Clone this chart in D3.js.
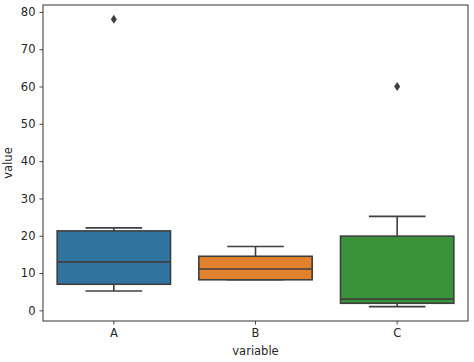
<!DOCTYPE html>
<html>
<head>
<meta charset="utf-8">
<script src="https://cdn.jsdelivr.net/npm/d3@7"></script>
<style>
  body { margin: 0; background: #fff; }
  text { font-family: "DejaVu Sans", sans-serif; }
</style>
</head>
<body>
<div id="chart"></div>
<script>
// Box stats
const categories = ["A", "B", "C"];
const q1 = [7, 8.2, 1.9];
const median = [13, 11.1, 3];
const q3 = [21.3, 14.5, 19.9];
const whiskerLow = [5.2, 8.2, 1];
const whiskerHigh = [22.1, 17.1, 25.2];
const outliers = [[78], [], [60]];
const colors = ["#3274a1", "#e1812c", "#3a923a"];
const yTicks = [0, 10, 20, 30, 40, 50, 60, 70, 80];

const width = 474, height = 362;
const margin = {top: 5, right: 6, bottom: 41, left: 43};
const lineColor = "#3f3f3f";

const svg = d3.select("#chart")
  .append("svg")
  .attr("width", width)
  .attr("height", height);

const x = d3.scaleBand()
  .domain(categories)
  .range([margin.left, width - margin.right])
  .paddingInner(0)
  .paddingOuter(0);

const y = d3.scaleLinear()
  .domain([-2.85, 81.85])
  .range([height - margin.bottom, margin.top]);

const boxW = x.bandwidth() * 0.8;
const capW = boxW / 2;

// Boxes
categories.forEach((c, i) => {
  let cx = x(c) + x.bandwidth() / 2;
  let g = svg.append("g");

  // whiskers
  g.append("line")
    .attr("x1", cx).attr("x2", cx)
    .attr("y1", y(q3[i])).attr("y2", y(whiskerHigh[i]))
    .attr("stroke", lineColor).attr("stroke-width", 1.6);
  g.append("line")
    .attr("x1", cx).attr("x2", cx)
    .attr("y1", y(q1[i])).attr("y2", y(whiskerLow[i]))
    .attr("stroke", lineColor).attr("stroke-width", 1.6);
  // caps
  [whiskerHigh[i], whiskerLow[i]].forEach(v => {
    g.append("line")
      .attr("x1", cx - capW / 2).attr("x2", cx + capW / 2)
      .attr("y1", y(v)).attr("y2", y(v))
      .attr("stroke", lineColor).attr("stroke-width", 1.6);
  });

  // box
  g.append("rect")
    .attr("x", cx - boxW / 2)
    .attr("y", y(q3[i]))
    .attr("width", boxW)
    .attr("height", y(q1[i]) - y(q3[i]))
    .attr("fill", colors[i])
    .attr("stroke", lineColor)
    .attr("stroke-width", 1.6);

  // median
  g.append("line")
    .attr("x1", cx - boxW / 2).attr("x2", cx + boxW / 2)
    .attr("y1", y(median[i])).attr("y2", y(median[i]))
    .attr("stroke", lineColor).attr("stroke-width", 1.6);

  // fliers (diamonds)
  outliers[i].forEach(v => {
    g.append("path")
      .attr("transform", `translate(${cx},${y(v)})`)
      .attr("d", "M0,-4.5L3,0L0,4.5L-3,0Z")
      .attr("fill", lineColor);
  });
});

// Axes
const xAxis = svg.append("g")
  .attr("transform", `translate(0,${height - margin.bottom})`)
  .call(d3.axisBottom(x).tickSize(3.5).tickPadding(4));

const yAxis = svg.append("g")
  .attr("transform", `translate(${margin.left},0)`)
  .call(d3.axisLeft(y).tickValues(yTicks).tickSize(3.5).tickPadding(4));

[xAxis, yAxis].forEach(a => {
  a.select(".domain").remove();
  a.selectAll(".tick line").attr("stroke", "#333").attr("stroke-width", 0.9);
  a.selectAll(".tick text")
    .attr("fill", "#262626")
    .style("font-size", "11.5px")
    .style("font-family", "DejaVu Sans, sans-serif");
});

// frame
svg.append("rect")
  .attr("x", margin.left)
  .attr("y", margin.top)
  .attr("width", width - margin.left - margin.right)
  .attr("height", height - margin.top - margin.bottom)
  .attr("fill", "none")
  .attr("stroke", "#444")
  .attr("stroke-width", 1.1);

// axis labels
svg.append("text")
  .attr("x", margin.left + (width - margin.left - margin.right) / 2)
  .attr("y", 355)
  .attr("text-anchor", "middle")
  .attr("fill", "#262626")
  .style("font-size", "11.5px")
  .text("variable");

svg.append("text")
  .attr("transform", `translate(12,${margin.top + (height - margin.top - margin.bottom) / 2}) rotate(-90)`)
  .attr("text-anchor", "middle")
  .attr("fill", "#262626")
  .style("font-size", "11.5px")
  .text("value");
</script>
</body>
</html>
